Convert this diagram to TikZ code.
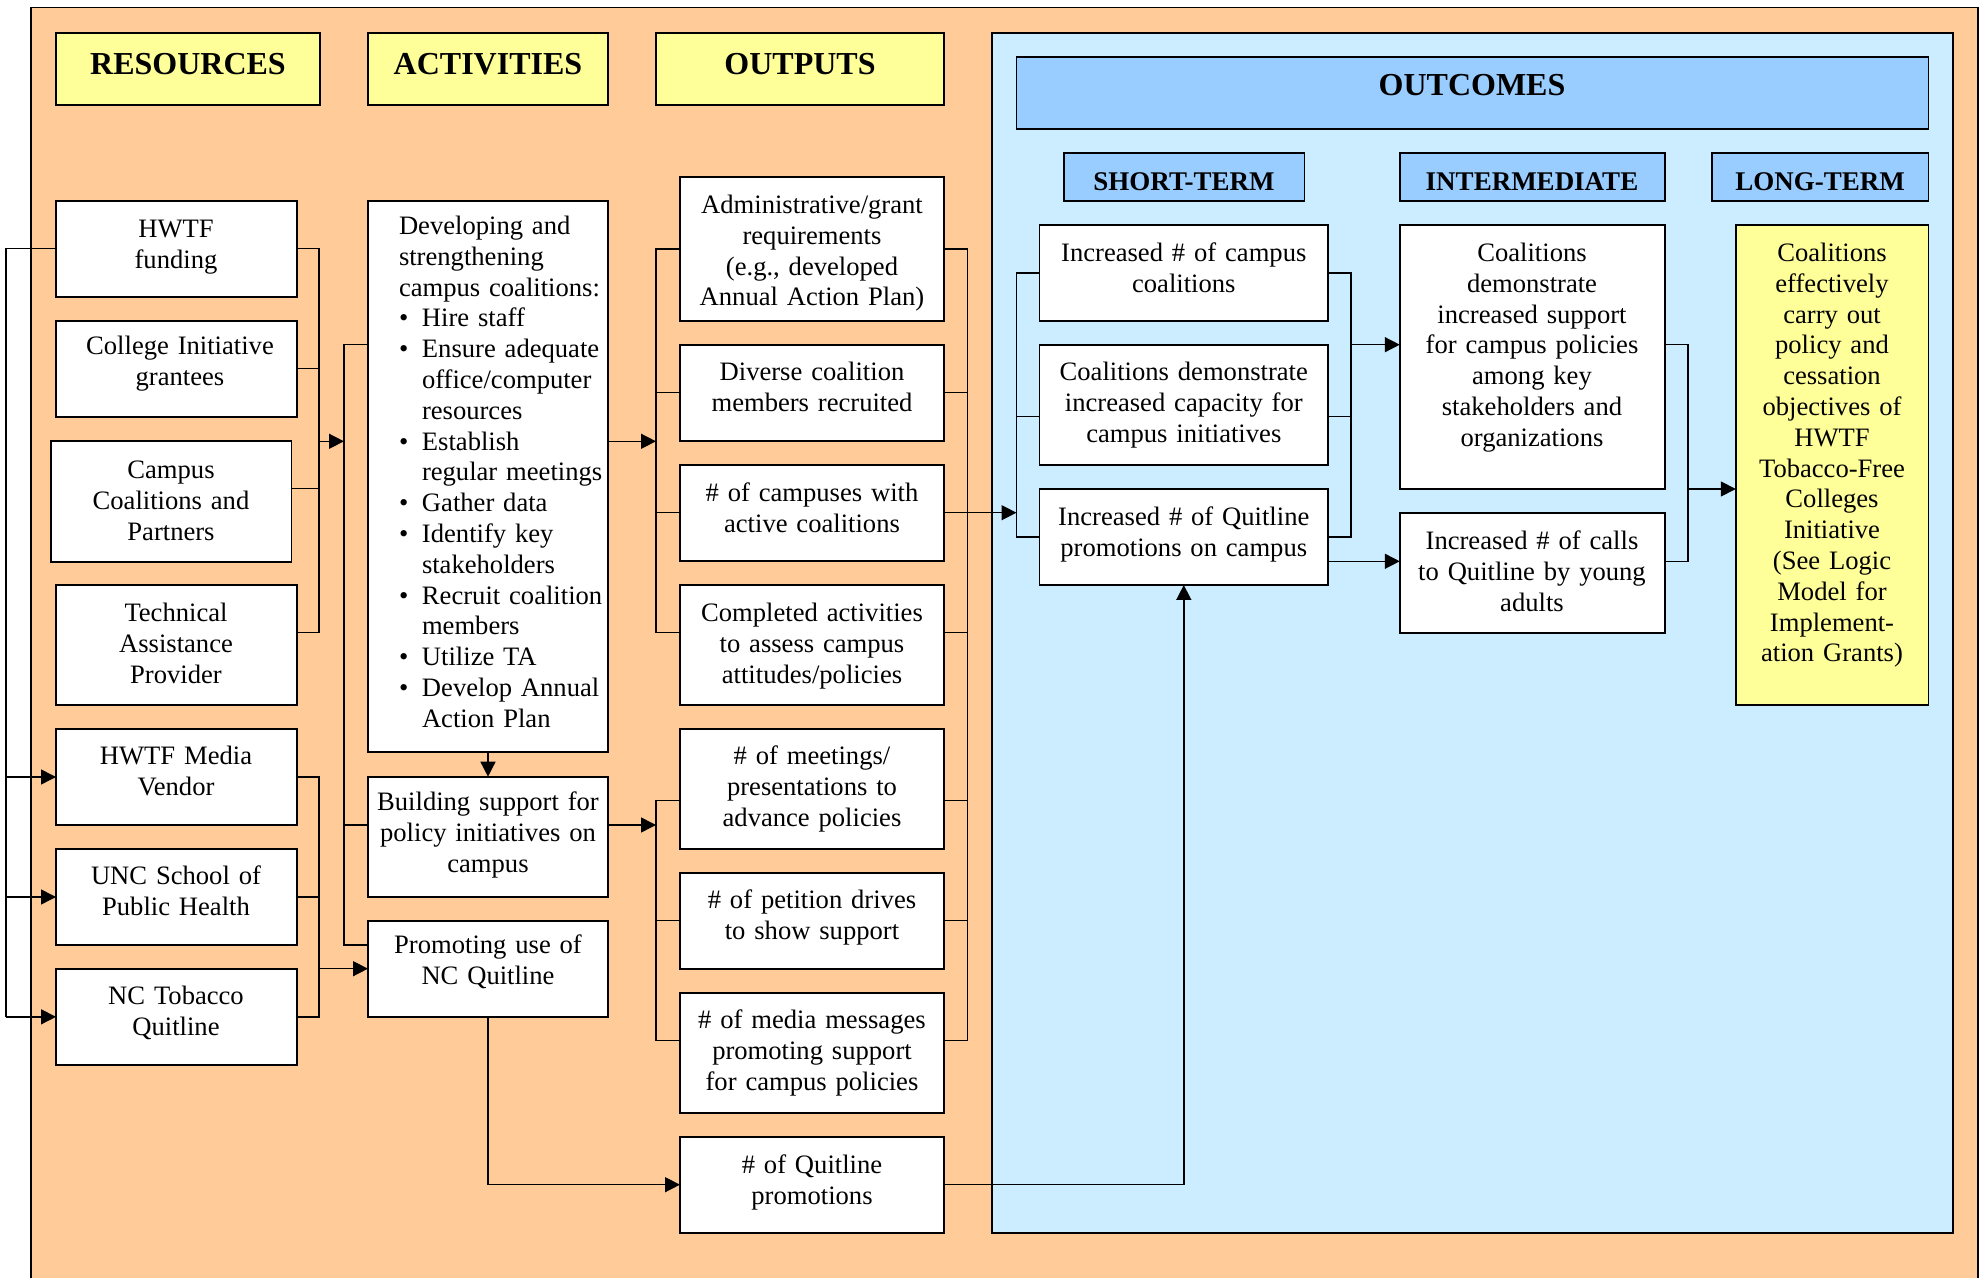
\documentclass[tikz,border=0pt]{standalone}
\usepackage{fontspec}
\setmainfont{Liberation Serif}
\usetikzlibrary{arrows.meta}
\definecolor{peach}{HTML}{FFCC99}
\definecolor{paleblue}{HTML}{CCECFF}
\definecolor{headblue}{HTML}{99CCFF}
\definecolor{paleyellow}{HTML}{FFFF99}
\newcommand{\mkbox}[6]{%
  \node[#6, minimum width={(#4-#2)*0.5pt}, minimum height={(#5-#3)*0.5pt}] (#1) at ({(#2+#4)/2},{(#3+#5)/2}) {};}
\newcommand{\bulitem}{\makebox[11.5pt][l]{\textbullet}}
\newcommand{\hangsp}{\hspace*{11.5pt}}
\begin{document}
\begin{tikzpicture}[x=0.5pt,y=-0.5pt,
  box/.style={draw, line width=0.9pt, fill=white, inner sep=0, outer sep=0},
  ybox/.style={box, fill=paleyellow},
  bbox/.style={box, fill=headblue},
  txt/.style={inner sep=0, outer sep=0, align=center, anchor=base, yshift=-1.75pt, font=\fontsize{13.3}{15.4}\selectfont},
  hdr/.style={inner sep=0, outer sep=0, anchor=base, yshift=-0.5pt, font=\fontsize{16}{19}\selectfont\bfseries},
  shdr/.style={inner sep=0, outer sep=0, anchor=base, yshift=-0.5pt, font=\fontsize{13.5}{16}\selectfont\bfseries},
  con/.style={line width=0.75pt},
  arr/.style={con, -{Triangle[length=7.5pt,width=7.5pt]}},
]
\useasboundingbox (0,0) rectangle (1983,1278);
\clip (0,0) rectangle (1983,1278);
\fill[white] (0,0) rectangle (1983,1278);

% frames
\mkbox{frame}{31}{7.5}{1978}{1300}{box, fill=peach}
\mkbox{outc}{991.6}{32.7}{1952.7}{1232.7}{box, fill=paleblue}

% headers
\mkbox{hres}{56}{32.7}{320}{105.3}{ybox}
\mkbox{hact}{368}{32.7}{608}{105.3}{ybox}
\mkbox{hout}{656}{32.7}{944}{105.3}{ybox}
\mkbox{houtc}{1016.5}{56.7}{1928.4}{129}{bbox}
\mkbox{hst}{1063.8}{152.7}{1304.5}{201.3}{bbox}
\mkbox{hint}{1399.8}{152.7}{1664.8}{201.3}{bbox}
\mkbox{hlt}{1712.1}{152.7}{1928.4}{201.3}{bbox}
\node[hdr] (hres-t) at (188,74) {RESOURCES};
\node[hdr] (hact-t) at (488,74) {ACTIVITIES};
\node[hdr] (hout-t) at (800,74) {OUTPUTS};
\node[hdr] (houtc-t) at (1472,94.3) {OUTCOMES};
\node[shdr] (hst-t) at (1184,190) {SHORT-TERM};
\node[shdr] (hint-t) at (1532,190) {INTERMEDIATE};
\node[shdr] (hlt-t) at (1820,190) {LONG-TERM};

% resources
\mkbox{hw}{56}{200.7}{296.6}{296.7}{box}
\mkbox{ci}{56}{320.7}{296.6}{416.7}{box}
\mkbox{cc}{51}{441.3}{291.5}{561.7}{box}
\mkbox{ta}{56}{584.7}{296.6}{705}{box}
\mkbox{mv}{56}{729}{296.6}{825}{box}
\mkbox{unc}{56}{849}{296.6}{945}{box}
\mkbox{nct}{56}{968.7}{296.6}{1065}{box}
\node[txt, text width=120pt] (hw-t) at (176,234) {HWTF\\funding};
\node[txt, text width=120pt] (ci-t) at (180,351) {College Initiative\\grantees};
\node[txt, text width=120pt] (cc-t) at (171,475) {Campus\\Coalitions and\\Partners};
\node[txt, text width=120pt] (ta-t) at (176,618) {Technical\\Assistance\\Provider};
\node[txt, text width=120pt] (mv-t) at (176,761) {HWTF Media\\Vendor};
\node[txt, text width=120pt] (unc-t) at (176,881) {UNC School of\\Public Health};
\node[txt, text width=120pt] (nct-t) at (176,1001) {NC Tobacco\\Quitline};

% activities
\mkbox{dev}{368}{200.7}{608}{752.3}{box}
\mkbox{bs}{368}{776.7}{608}{896.7}{box}
\mkbox{pr}{368}{920.7}{608}{1016.7}{box}
\node[txt, align=left, anchor=base west, text width=106pt] (dev-t) at (399,231) {Developing and\\strengthening\\campus coalitions:\\
\bulitem Hire staff\\
\bulitem Ensure adequate\\\hangsp office/computer\\\hangsp resources\\
\bulitem Establish\\\hangsp regular meetings\\
\bulitem Gather data\\
\bulitem Identify key\\\hangsp stakeholders\\
\bulitem Recruit coalition\\\hangsp members\\
\bulitem Utilize TA\\
\bulitem Develop Annual\\\hangsp Action Plan};
\node[txt, text width=120pt] (bs-t) at (488,807) {Building support for\\policy initiatives on\\campus};
\node[txt, text width=120pt] (pr-t) at (488,950) {Promoting use of\\NC Quitline};

% outputs
\mkbox{ad}{680}{176.7}{944}{321}{box}
\mkbox{dv}{680}{344.7}{944}{440.7}{box}
\mkbox{cp}{680}{464.7}{944}{560.7}{box}
\mkbox{ca}{680}{584.7}{944}{705}{box}
\mkbox{me}{680}{729}{944}{849}{box}
\mkbox{pe}{680}{872.7}{944}{968.7}{box}
\mkbox{md}{680}{992.7}{944}{1112.7}{box}
\mkbox{qp}{680}{1136.7}{944}{1232.7}{box}
\node[txt, text width=132pt] (ad-t) at (812,210) {Administrative/grant\\requirements\\(e.g., developed\\Annual Action Plan)};
\node[txt, text width=132pt] (dv-t) at (812,377) {Diverse coalition\\members recruited};
\node[txt, text width=132pt] (cp-t) at (812,498) {\# of campuses with\\active coalitions};
\node[txt, text width=132pt] (ca-t) at (812,618) {Completed activities\\to assess campus\\attitudes/policies};
\node[txt, text width=132pt] (me-t) at (812,761) {\# of meetings/\\presentations to\\advance policies};
\node[txt, text width=132pt] (pe-t) at (812,905) {\# of petition drives\\to show support};
\node[txt, text width=132pt] (md-t) at (812,1025) {\# of media messages\\promoting support\\for campus policies};
\node[txt, text width=132pt] (qp-t) at (812,1170) {\# of Quitline\\promotions};

% outcomes
\mkbox{s1}{1039.5}{224.7}{1328.1}{321}{box}
\mkbox{s2}{1039.5}{344.7}{1328.1}{464.7}{box}
\mkbox{s3}{1039.5}{488.7}{1328.1}{585}{box}
\mkbox{i1}{1399.8}{224.7}{1664.8}{489}{box}
\mkbox{i2}{1399.8}{512.7}{1664.8}{633}{box}
\mkbox{lt}{1735.8}{224.7}{1928.4}{704.7}{ybox}
\node[txt, text width=144pt] (s1-t) at (1183.8,258) {Increased \# of campus\\coalitions};
\node[txt, text width=144pt] (s2-t) at (1183.8,377) {Coalitions demonstrate\\increased capacity for\\campus initiatives};
\node[txt, text width=132pt] (s3-t) at (1183.8,522) {Increased \# of Quitline\\promotions on campus};
\node[txt, text width=132pt] (i1-t) at (1532,258) {Coalitions\\demonstrate\\increased support\\for campus policies\\among key\\stakeholders and\\organizations};
\node[txt, text width=132pt] (i2-t) at (1532,546) {Increased \# of calls\\to Quitline by young\\adults};
\node[txt, text width=96pt] (lt-t) at (1832,258) {Coalitions\\effectively\\carry out\\policy and\\cessation\\objectives of\\HWTF\\Tobacco-Free\\Colleges\\Initiative\\(See Logic\\Model for\\Implement-\\ation Grants)};

% junction coordinates
\coordinate (rbusTop) at (319,441.3);
\coordinate (actBr) at (344,441.3);
\coordinate (outBrA) at (656,441.3);
\coordinate (outBrB) at (656,825);
\coordinate (outR) at (967.5,512.7);
\coordinate (stL) at (1016.5,512.7);
\coordinate (stR) at (1351.2,344.7);
\coordinate (intR) at (1687.8,489);

% resources -> activities
\draw[con] (hw.east) -| (319,632.3) -- (ta.east |- 0,632.3);
\draw[con] (ci.east) -- (ci.east -| 319,0);
\draw[con] (cc.east |- 0,488.7) -- (319,488.7);
\draw[arr] (rbusTop) -- (actBr);
\draw[con] (mv.east) -| (nct.east -| 319,0) -- (nct.east);
\draw[con] (unc.east) -- (unc.east -| 319,0);
\draw[arr] (pr.west -| 319,0) -- (pr.west);

% feedback on far left
\draw[con] (hw.west) -| (nct.west -| 6,0);
\draw[arr] (nct.west -| 6,0) -- (nct.west);
\draw[arr] (unc.west -| 6,0) -- (unc.west);
\draw[arr] (mv.west -| 6,0) -- (mv.west);

% activities bracket
\draw[con] (dev.west |- 0,344.7) -| (344,945) -- (pr.west |- 0,945);
\draw[con] (bs.west |- 0,825) -- (344,825);
\draw[arr] (dev.south) -- (bs.north);

% activities -> outputs
\draw[arr] (dev.east |- outBrA) -- (outBrA);
\draw[con] (ad.west) -| (656,632.3) -- (ca.west |- 0,632.3);
\draw[con] (dv.west) -- (dv.west -| 656,0);
\draw[con] (cp.west) -- (cp.west -| 656,0);
\draw[arr] (bs.east |- outBrB) -- (outBrB);
\draw[con] (me.west |- 0,800.7) -| (656,1040.7) -- (md.west |- 0,1040.7);
\draw[con] (pe.west) -- (pe.west -| 656,0);

% outputs right bracket
\draw[con] (ad.east) -| (967.5,1040.7) -- (md.east |- 0,1040.7);
\draw[con] (dv.east) -- (dv.east -| 967.5,0);
\draw[con] (cp.east) -- (outR);
\draw[con] (ca.east |- 0,632.3) -- (967.5,632.3);
\draw[con] (me.east |- 0,800.7) -- (967.5,800.7);
\draw[con] (pe.east) -- (pe.east -| 967.5,0);
\draw[arr] (outR) -- (stL);

% short-term brackets
\draw[con] (s1.west) -| (s3.west -| 1016.5,0) -- (s3.west);
\draw[con] (s2.west |- 0,416.7) -- (1016.5,416.7);
\draw[con] (s1.east) -| (s3.east -| 1351.2,0) -- (s3.east);
\draw[con] (s2.east |- 0,416.7) -- (1351.2,416.7);
\draw[arr] (stR) -- (i1.west |- stR);
\draw[arr] (s3.east |- 0,561.3) -- (i2.west |- 0,561.3);

% intermediate bracket
\draw[con] (i1.east |- 0,344.7) -| (1687.8,561.3) -- (i2.east |- 0,561.3);
\draw[arr] (intR) -- (lt.west |- intR);

% quitline path
\draw[arr] (pr.south) |- (qp.west);
\draw[arr] (qp.east) -| (s3.south);
\end{tikzpicture}
\end{document}
